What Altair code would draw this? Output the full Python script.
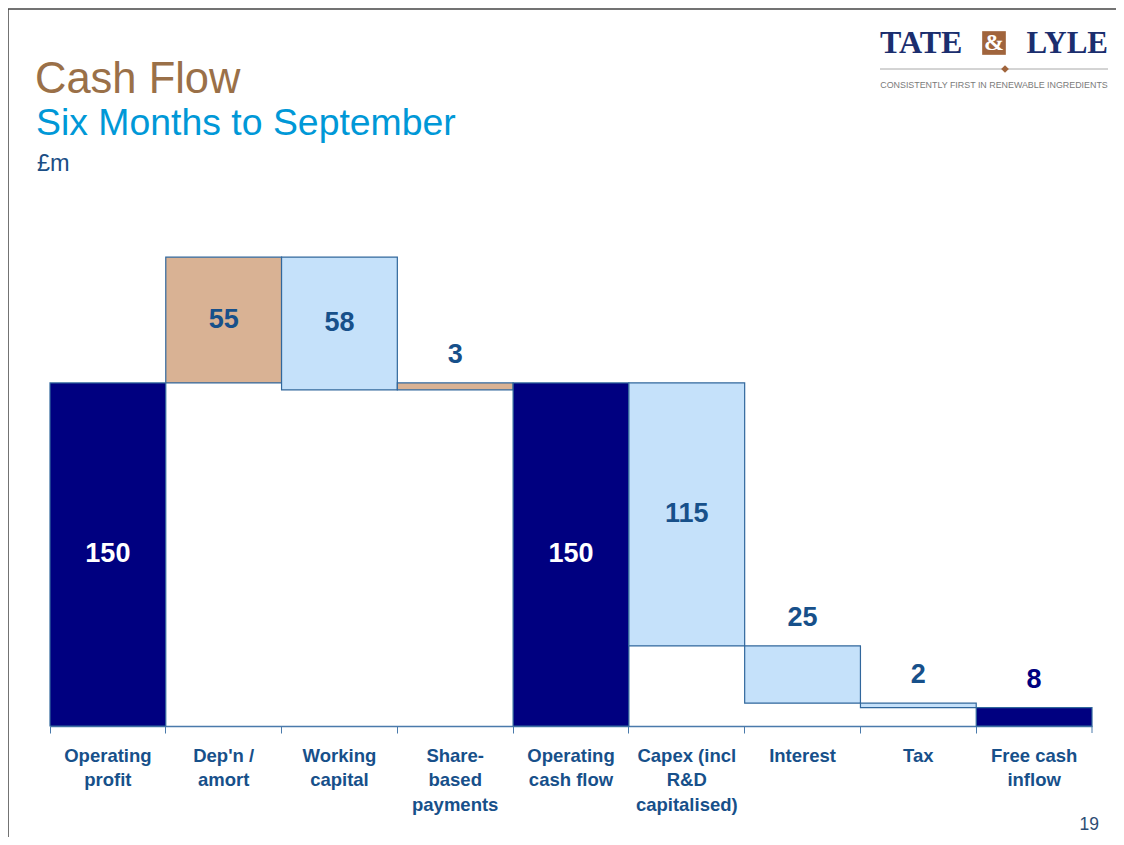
import altair as alt
import pandas as pd

# ---- data ----
categories = [
    "Operating\nprofit",
    "Dep'n /\namort",
    "Working\ncapital",
    "Share-\nbased\npayments",
    "Operating\ncash flow",
    "Capex (incl\nR&D\ncapitalised)",
    "Interest",
    "Tax",
    "Free cash\ninflow",
]
values = [150, 55, -58, 3, 150, -115, -25, -2, 8]
kinds = ["total", "increase", "decrease", "increase", "total",
         "decrease", "decrease", "decrease", "total"]
labels = ["150", "55", "58", "3", "150", "115", "25", "2", "8"]

# ---- build waterfall table ----
rows = []
running = 0
for cat, v, k, lab in zip(categories, values, kinds, labels):
    if k == "total":
        start, end = 0, v
        running = v
    else:
        start = running
        end = running + v
        running = end
    inside = abs(v) >= 30
    if inside and k == "total":
        lc = "#FFFFFF"
    elif k == "total":
        lc = "#000080"
    else:
        lc = "#17508A"
    rows.append(dict(cat=cat, start=start, end=end, kind=k, label=lab,
                     mid=(start + end) / 2, top=max(start, end),
                     place="inside" if inside else "above", lcolor=lc))
df = pd.DataFrame(rows)

FONT = "Liberation Sans"
W, H = 1042, 526

x_enc = alt.X(
    "cat:N", sort=categories,
    scale=alt.Scale(paddingInner=0, paddingOuter=0),
    axis=alt.Axis(
        title=None, labelAngle=0, bandPosition=0, tickSize=7,
        labelPadding=13, labelFontSize=18.5, labelFontWeight="bold",
        labelFont=FONT, labelColor="#17508A", labelLineHeight=24.5,
        labelExpr="split(datum.label, '\\n')", domainColor="#4A7AAB",
        tickColor="#4A7AAB", domainWidth=1.5, labelLimit=200,
    ),
)
y_scale = alt.Scale(domain=[0, 230], nice=False)

base = alt.Chart(df)

bars = base.mark_bar(stroke="#31679C", strokeWidth=1.2).encode(
    x=x_enc,
    y=alt.Y("start:Q", scale=y_scale, axis=None),
    y2="end:Q",
    color=alt.Color(
        "kind:N",
        scale=alt.Scale(domain=["total", "increase", "decrease"],
                        range=["#000080", "#D9B294", "#C5E1FA"]),
        legend=None,
    ),
)

inside_lbl = base.transform_filter("datum.place == 'inside'").mark_text(
    font=FONT, fontSize=27, fontWeight="bold", baseline="middle"
).encode(
    x=alt.X("cat:N", sort=categories), y=alt.Y("mid:Q", scale=y_scale),
    text="label:N", color=alt.Color("lcolor:N", scale=None),
)

above_lbl = base.transform_filter("datum.place == 'above'").mark_text(
    font=FONT, fontSize=27, fontWeight="bold", baseline="middle", dy=-28
).encode(
    x=alt.X("cat:N", sort=categories), y=alt.Y("top:Q", scale=y_scale),
    text="label:N", color=alt.Color("lcolor:N", scale=None),
)

one = pd.DataFrame({"a": [0]})


def txt(s, x, y, size, color, font=FONT, weight="normal", align="left",
        baseline="alphabetic"):
    return alt.Chart(one).mark_text(
        x=x, y=y, fontSize=size, color=color, font=font, fontWeight=weight,
        align=align, baseline=baseline,
    ).encode(text=alt.value(s))


# plot origin is at page (50, 200)
title = txt("Cash Flow", -15, -107, 43.5, "#9A7048")
subtitle = txt("Six Months to September", -14, -65, 37.4, "#0098D7")
unit = txt("£m", -13, -29, 23.5, "#1B4E85")
page_no = txt("19", 1049, 630, 17.5, "#2E4D73", align="right")

logo_tate = txt("TATE", 830, -147, 32, "#1B2E6E", font="Liberation Serif",
                weight="bold")
logo_box = alt.Chart(one).mark_square(
    color="#A0643C", size=560, opacity=1, filled=True
).encode(x=alt.value(944), y=alt.value(-157))
logo_amp = txt("&", 944, -157, 24, "#FFFFFF", font="Liberation Serif",
               weight="bold", align="center", baseline="middle")
logo_lyle = txt("LYLE", 1058, -147, 31, "#1B2E6E", font="Liberation Serif",
                weight="bold", align="right")
logo_tag = txt("CONSISTENTLY FIRST IN RENEWABLE INGREDIENTS", 944, -115, 8.9,
               "#7A7A7A", align="center", baseline="middle")
logo_line = alt.Chart(one).mark_rule(color="#A8A8A8", strokeWidth=1).encode(
    x=alt.value(830), x2=alt.value(1058), y=alt.value(-131))
logo_diamond = alt.Chart(one).mark_point(
    shape="diamond", filled=True, color="#A0643C", size=60, opacity=1
).encode(x=alt.value(955), y=alt.value(-131))

end_tick = alt.Chart(one).mark_rule(color="#4A7AAB", strokeWidth=1).encode(
    x=alt.value(W), y=alt.value(H), y2=alt.value(H + 7))

frame_top = alt.Chart(one).mark_rule(color="#444444", strokeWidth=1.5).encode(
    x=alt.value(-42), x2=alt.value(1070), y=alt.value(-191))
frame_left = alt.Chart(one).mark_rule(color="#444444", strokeWidth=1.5).encode(
    x=alt.value(-42), y=alt.value(-191), y2=alt.value(637))

chart = alt.layer(
    bars, inside_lbl, above_lbl, end_tick,
    title, subtitle, unit, page_no,
    logo_tate, logo_box, logo_amp, logo_lyle, logo_tag, logo_line, logo_diamond,
    frame_top, frame_left,
).properties(
    width=W, height=H,
    autosize=alt.AutoSizeParams(type="none"),
    padding={"left": 42, "top": 192, "right": 24, "bottom": 111},
    background="white",
).configure_view(stroke=None)

chart.save("out.html", embed_options={"renderer": "svg", "actions": False})
